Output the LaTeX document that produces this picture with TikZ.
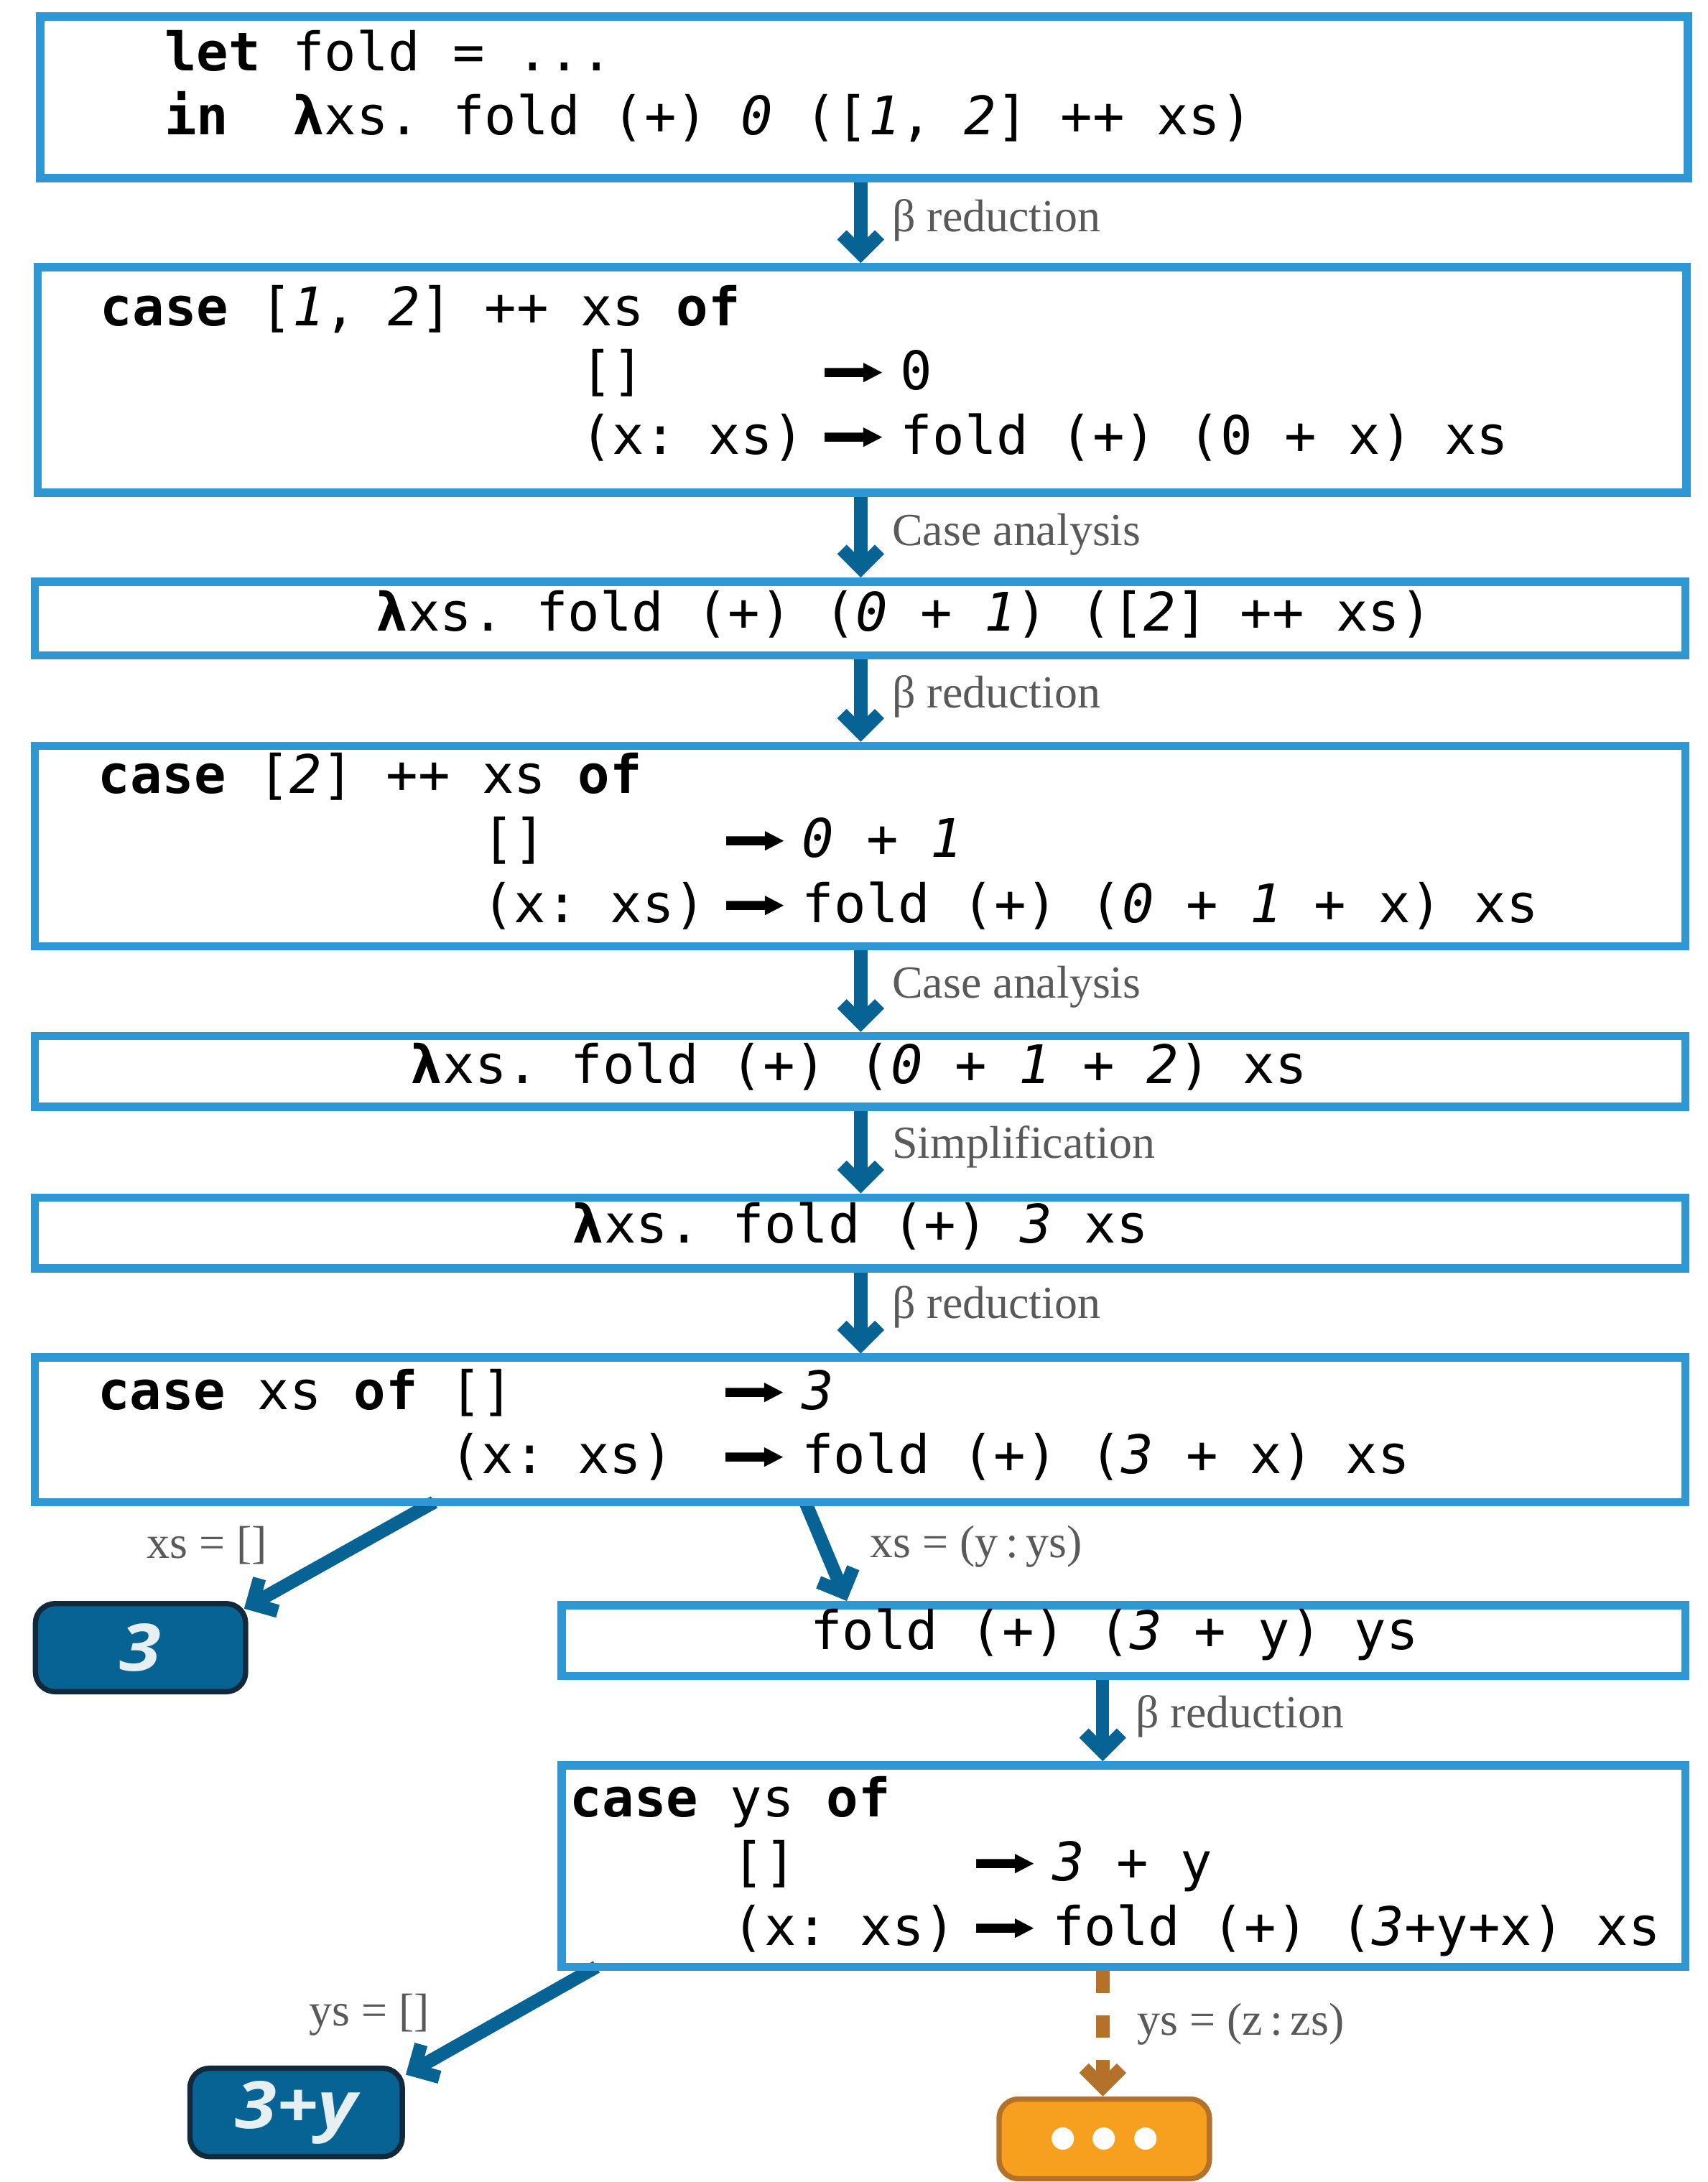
\documentclass[tikz,border=0pt]{standalone}
\usepackage{fontspec}
\usepackage{graphicx}
\setmainfont{Liberation Serif}
\setmonofont{DejaVu Sans Mono}
\newfontfamily\symfont{DejaVu Sans}
\newfontfamily\labfont{Liberation Serif}
\newfontfamily\valfont{Open Sans}
\usetikzlibrary{arrows.meta,backgrounds}
\definecolor{boxblue}{HTML}{2F97D3}
\definecolor{arrblue}{HTML}{076394}
\definecolor{navy}{HTML}{12283B}
\definecolor{labgray}{HTML}{595959}
\definecolor{orfill}{HTML}{F7A01F}
\definecolor{orline}{HTML}{B4712A}
\definecolor{valtext}{HTML}{E6F0F3}
\newlength\cw \setlength\cw{23pt}
\newcommand\karr{\raisebox{3pt}{\resizebox*{46pt}{16pt}{\raisebox{\depth}{\symfont ➡}}}}
\newcommand\karrbox{\makebox[3\cw]{\karr}}
\newcommand\dotc{\makebox[29.7pt]{\symfont\fontsize{21}{21}\selectfont ●}}
\newcommand\valtxt[1]{\scalebox{1.15}[1]{#1}}
\begin{document}
\frenchspacing
\begin{tikzpicture}[x=1pt,y=-1pt,
  code/.style={anchor=base west, inner sep=0, font=\ttfamily\fontsize{38.2}{46}\selectfont},
  box/.style={draw=boxblue, line width=6pt, inner sep=0, rectangle},
  val/.style={draw=navy, fill=arrblue, line width=3.8pt, rounded corners=14pt, inner sep=0, text=valtext, font=\valfont\bfseries\itshape\fontsize{47}{47}\selectfont},
  dotsbox/.style={draw=orline, fill=orfill, line width=3.8pt, rounded corners=14pt, inner sep=0, text=white},
  lab/.style={anchor=base west, inner sep=0, text=labgray, font=\labfont\fontsize{33}{33}\selectfont},
  flow/.style={draw=arrblue, line width=9.5pt, -{Straight Barb[length=13.5pt, width=27pt]}},
  flowd/.style={draw=orline, line width=9.6pt, dash pattern=on 16pt off 16pt, -{Straight Barb[length=13.5pt, width=27pt]}}
]
\useasboundingbox (0,0) rectangle (1226.85,1568);
\coordinate (cx) at (618.5,0);
\coordinate (cx2) at (792.4,0);

% boxes
\node[box, minimum width=1184pt, minimum height=116pt] (b1) at (621,70) {};
\node[box, minimum width=1185pt, minimum height=162pt] (b2) at (619.5,273) {};
\node[box, minimum width=1186pt, minimum height=53pt] (b3) at (618,444.5) {};
\node[box, minimum width=1186pt, minimum height=144pt] (b4) at (618,608) {};
\node[box, minimum width=1186pt, minimum height=50.9pt] (b5) at (618,770) {};
\node[box, minimum width=1186pt, minimum height=50.9pt] (b6) at (618,886) {};
\node[box, minimum width=1186pt, minimum height=103.8pt] (b7) at (618,1027.5) {};
\node[box, minimum width=807.4pt, minimum height=50.9pt] (b8) at (807.3,1178.9) {};
\node[box, minimum width=807.4pt, minimum height=144.8pt] (b9) at (807.3,1341) {};
\node[val, minimum width=151pt, minimum height=63.3pt] (r3) at (101,1184) {\valtxt{3}};
\node[val, minimum width=152.6pt, minimum height=63.5pt] (r3y) at (212.8,1518) {\valtxt{3+y}};
\node[dotsbox, minimum width=151.2pt, minimum height=57.3pt] (dots) at (793.5,1537) {\dotc\dotc\dotc};

% code text
\node[code] (t1a) at (118,50.8) {\textbf{let} fold = ...};
\node[code] (t1b) at (118,96.7) {\textbf{in}~~\textbf{λ}xs. fold (+) \textit{0} ([\textit{1}, \textit{2}] ++ xs)};
\node[code] (t2a) at (72,233.9) {\textbf{case} [\textit{1}, \textit{2}] ++ xs \textbf{of}};
\node[code] (t2b) at (417,280.1) {[]~~~~~\karrbox{}0};
\node[code] (t2c) at (417,326.4) {(x: xs)\karrbox{}fold (+) (0 + x) xs};
\node[code] (t3) at (270,453.2) {\textbf{λ}xs. fold (+) (\textit{0} + \textit{1}) ([\textit{2}] ++ xs)};
\node[code] (t4a) at (70.3,570.2) {\textbf{case} [\textit{2}] ++ xs \textbf{of}};
\node[code] (t4b) at (346.3,616.2) {[]~~~~~\karrbox{}\textit{0} + \textit{1}};
\node[code] (t4c) at (346.3,663) {(x: xs)\karrbox{}fold (+) (\textit{0} + \textit{1} + x) xs};
\node[code] (t5) at (295,778.6) {\textbf{λ}xs. fold (+) (\textit{0} + \textit{1} + \textit{2}) xs};
\node[code] (t6) at (411,893) {\textbf{λ}xs. fold (+) \textit{3} xs};
\node[code] (t7a) at (70,1012.9) {\textbf{case} xs \textbf{of} []~~~~~~\karrbox{}\textit{3}};
\node[code] (t7b) at (323,1059) {(x: xs)~\karrbox{}fold (+) (\textit{3} + x) xs};
\node[code] (t8) at (582,1185.4) {fold (+) (\textit{3} + y) ys};
\node[code] (t9a) at (409.6,1305.6) {\textbf{case} ys \textbf{of}};
\node[code] (t9b) at (526,1351.5) {[]~~~~~\karrbox{}\textit{3} + y};
\node[code] (t9c) at (526,1398) {(x: xs)\karrbox{}fold (+) (\textit{3}+y+x) xs};

% labels
\node[lab] (l1) at (641,166.6) {β reduction};
\node[lab] (l2) at (641,391.8) {Case analysis};
\node[lab] (l3) at (641,508.6) {β reduction};
\node[lab] (l4) at (641,716.9) {Case analysis};
\node[lab] (l5) at (641,832) {Simplification};
\node[lab] (l6) at (641,947.6) {β reduction};
\node[lab] (l7) at (625,1119.1) {xs = (y\,:\,ys)};
\node[lab] (l8) at (105.5,1119.8) {xs = []};
\node[lab] (l9) at (816,1241.3) {β reduction};
\node[lab] (l10) at (222,1455.6) {ys = []};
\node[lab] (l11) at (817,1462.2) {ys = (z\,:\,zs)};

\begin{pgfonlayer}{background}
\draw[flow] (b1.south -| cx) -- (b2.north -| cx);
\draw[flow] (b2.south -| cx) -- (b3.north -| cx);
\draw[flow] (b3.south -| cx) -- (b4.north -| cx);
\draw[flow] (b4.south -| cx) -- (b5.north -| cx);
\draw[flow] (b5.south -| cx) -- (b6.north -| cx);
\draw[flow] (b6.south -| cx) -- (b7.north -| cx);
\draw[flow] ([xshift=290pt, yshift=3pt]b7.south west) -- ([xshift=-3pt, yshift=-5.5pt]r3.north east);
\draw[flow] ([xshift=556.7pt, yshift=3pt]b7.south west) -- ([xshift=207.9pt]b8.north west);
\draw[flow] (b8.south -| cx2) -- (b9.north -| cx2);
\draw[flow] ([xshift=28pt, yshift=3pt]b9.south west) -- ([xshift=0.6pt, yshift=-6.5pt]r3y.north east);
\draw[flowd] (b9.south -| cx2) -- (dots.north -| cx2);
\end{pgfonlayer}
\end{tikzpicture}
\end{document}
